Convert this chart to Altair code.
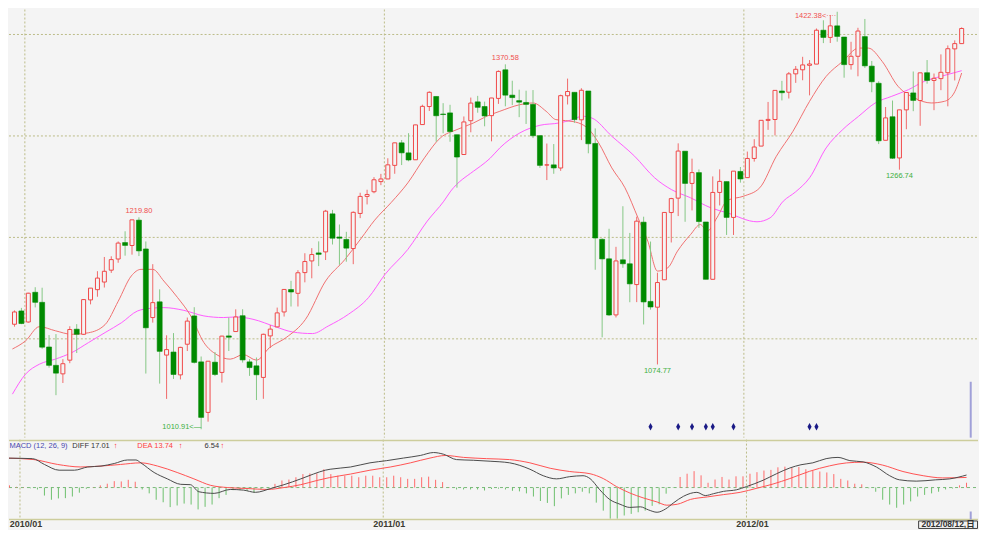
import altair as alt
import pandas as pd

# ---------------- values (weekly candles) ----------------
opens = [1114.4, 1127.5, 1116.6, 1145.9, 1136.0, 1092.0, 1073.9, 1065.5, 1079.0, 1109.5,
         1104.5, 1138.4, 1148.5, 1156.0, 1167.7, 1178.7, 1194.9, 1192.0, 1217.0, 1188.6,
         1121.0, 1136.5, 1084.0, 1087.0, 1064.5, 1094.7, 1122.6, 1077.3, 1027.5, 1077.0,
         1066.9, 1102.9, 1107.2, 1122.8, 1077.3, 1073.4, 1062.0, 1102.9, 1111.8, 1126.5,
         1148.6, 1144.9, 1165.3, 1176.8, 1184.7, 1185.7, 1223.2, 1200.4, 1198.0, 1189.0,
         1223.6, 1240.4, 1245.0, 1255.0, 1257.6, 1271.0, 1293.2, 1283.3, 1276.5, 1311.2,
         1329.0, 1338.9, 1321.6, 1322.7, 1301.2, 1281.7, 1315.0, 1333.6, 1329.0, 1320.0,
         1337.0, 1365.2, 1340.2, 1334.8, 1333.0, 1331.1, 1300.3, 1271.3, 1271.5, 1268.4,
         1339.6, 1343.0, 1315.9, 1344.3, 1292.6, 1198.1, 1178.9, 1123.6, 1177.9, 1174.0,
         1153.5, 1214.99, 1136.9, 1131.2, 1158.2, 1224.5, 1238.7, 1284.96, 1253.2, 1263.85,
         1215.2, 1158.7, 1244.3, 1255.0, 1219.7, 1265.0, 1258.9, 1277.8, 1290.0, 1315.3,
         1316.2, 1344.3, 1343.1, 1361.2, 1365.2, 1369.6, 1370.8, 1404.2, 1397.1, 1408.5,
         1397.5, 1370.3, 1378.5, 1397.9, 1368.8, 1351.9, 1295.7, 1318.9, 1278.3, 1325.7,
         1342.4, 1334.9, 1362.3, 1354.7, 1356.5, 1362.3, 1385.8, 1391.0]
highs = [1128.0, 1130.5, 1145.4, 1150.9, 1150.4, 1103.7, 1104.7, 1080.0, 1112.4, 1114.5,
         1139.0, 1150.0, 1166.7, 1180.7, 1181.4, 1196.0, 1206.0, 1217.3, 1219.8, 1196.0,
         1173.6, 1148.8, 1103.5, 1105.7, 1092.2, 1121.0, 1131.2, 1082.6, 1078.0, 1087.0,
         1103.0, 1120.95, 1129.1, 1129.2, 1080.0, 1081.6, 1105.1, 1113.7, 1130.8, 1148.9,
         1157.2, 1167.7, 1184.4, 1189.4, 1196.1, 1227.1, 1227.1, 1212.7, 1205.5, 1225.6,
         1244.0, 1247.0, 1259.4, 1262.6, 1278.0, 1293.2, 1296.0, 1302.7, 1311.0, 1330.8,
         1344.0, 1338.9, 1332.3, 1330.7, 1301.2, 1319.2, 1337.8, 1339.5, 1333.8, 1337.5,
         1364.6, 1370.58, 1354.4, 1345.6, 1344.6, 1345.2, 1300.3, 1292.5, 1292.0, 1340.7,
         1356.5, 1343.0, 1347.0, 1344.3, 1307.4, 1199.0, 1208.5, 1190.7, 1230.7, 1204.4,
         1220.4, 1220.4, 1195.9, 1165.2, 1224.6, 1239.0, 1292.7, 1284.96, 1277.6, 1266.98,
         1215.2, 1260.1, 1267.1, 1255.0, 1265.4, 1269.4, 1284.6, 1296.8, 1315.5, 1333.5,
         1345.0, 1354.3, 1363.0, 1368.9, 1378.0, 1374.8, 1405.9, 1414.0, 1419.2, 1422.38,
         1397.5, 1392.8, 1406.6, 1415.3, 1373.9, 1353.9, 1328.5, 1334.9, 1325.8, 1343.3,
         1363.5, 1362.2, 1374.8, 1361.5, 1380.4, 1389.2, 1394.2, 1407.0]
lows = [1112.0, 1114.5, 1116.0, 1131.0, 1090.2, 1071.6, 1044.5, 1056.5, 1076.0, 1086.0,
        1104.0, 1134.0, 1141.5, 1150.6, 1165.0, 1175.0, 1182.0, 1183.0, 1181.6, 1065.8,
        1116.0, 1055.9, 1040.8, 1060.5, 1060.0, 1088.0, 1075.7, 1010.91, 1018.4, 1063.3,
        1056.9, 1088.0, 1107.2, 1076.6, 1063.5, 1039.7, 1040.9, 1091.0, 1111.8, 1122.0,
        1131.9, 1131.9, 1155.7, 1159.7, 1171.7, 1177.7, 1193.0, 1173.0, 1176.0, 1173.6,
        1219.0, 1232.5, 1243.5, 1251.5, 1257.6, 1262.7, 1271.3, 1275.0, 1276.5, 1311.0,
        1324.6, 1294.3, 1302.6, 1294.3, 1249.0, 1281.7, 1303.6, 1322.9, 1309.5, 1294.7,
        1331.6, 1329.2, 1330.4, 1318.5, 1311.8, 1297.9, 1268.5, 1256.5, 1262.7, 1265.6,
        1331.0, 1313.0, 1295.9, 1282.9, 1168.1, 1101.5, 1122.6, 1121.1, 1170.0, 1136.1,
        1136.2, 1114.2, 1128.8, 1074.77, 1158.2, 1195.0, 1221.0, 1215.4, 1226.6, 1209.4,
        1158.7, 1158.7, 1231.5, 1202.4, 1202.4, 1254.0, 1258.9, 1274.7, 1290.0, 1306.0,
        1300.5, 1335.0, 1336.9, 1352.3, 1354.9, 1340.0, 1370.8, 1391.5, 1391.6, 1392.9,
        1357.4, 1365.4, 1358.8, 1367.0, 1343.1, 1291.98, 1295.7, 1277.3, 1266.74, 1306.6,
        1324.4, 1310.0, 1351.5, 1325.4, 1345.1, 1329.2, 1354.7, 1391.0]
closes = [1126.5, 1115.1, 1144.98, 1136.0, 1091.8, 1073.9, 1066.2, 1075.5, 1109.2, 1104.5,
          1138.7, 1150.0, 1159.9, 1166.6, 1178.1, 1194.4, 1192.1, 1217.3, 1186.7, 1110.9,
          1135.7, 1087.7, 1089.4, 1064.9, 1091.6, 1117.5, 1076.8, 1022.6, 1077.96, 1064.9,
          1102.7, 1101.6, 1121.6, 1079.25, 1071.7, 1064.6, 1104.5, 1109.6, 1125.6, 1148.7,
          1146.2, 1165.15, 1176.2, 1183.1, 1183.3, 1225.85, 1199.2, 1199.2, 1189.4, 1224.7,
          1240.4, 1242.3, 1256.8, 1257.6, 1271.5, 1293.2, 1283.35, 1276.3, 1310.9, 1329.15,
          1343.0, 1319.9, 1321.1, 1304.3, 1279.2, 1313.8, 1332.4, 1328.2, 1319.7, 1337.4,
          1363.6, 1340.2, 1337.8, 1333.3, 1331.1, 1300.2, 1270.98, 1271.5, 1268.45, 1339.7,
          1343.8, 1316.1, 1345.0, 1292.3, 1199.4, 1178.8, 1123.5, 1176.8, 1174.0, 1154.2,
          1216.0, 1136.4, 1131.4, 1155.5, 1224.6, 1238.25, 1285.1, 1253.2, 1263.85, 1215.65,
          1158.7, 1244.3, 1255.2, 1219.7, 1265.3, 1257.6, 1277.8, 1289.1, 1315.4, 1316.3,
          1344.9, 1342.6, 1361.2, 1365.7, 1370.0, 1370.9, 1404.2, 1397.1, 1408.5, 1398.1,
          1370.3, 1378.5, 1403.4, 1369.1, 1353.4, 1295.2, 1317.8, 1278.04, 1325.7, 1342.8,
          1335.02, 1362.2, 1354.7, 1356.8, 1362.7, 1385.97, 1390.99, 1405.9]

# moving-average lines (week position, price)
ma10_pos = [-0.3, 1.6, 3.6, 5.9, 8.3, 10.7, 13.1, 15.0, 16.9, 18.3, 20.0, 21.6, 23.6, 25.5, 27.4,
            29.3, 31.2, 33.1, 35.0, 36.9, 39.3, 42.1, 45.0, 47.8, 50.2, 52.1, 54.5, 56.9, 59.3,
            61.6, 64.0, 66.4, 68.3, 70.2, 73.1, 75.0, 76.9, 78.3, 79.7, 81.6, 83.1, 84.5, 86.4,
            88.3, 90.2, 91.6, 93.0, 94.5, 95.9, 97.8, 99.2, 100.2, 101.6, 103.1, 105.5, 107.8,
            110.2, 112.6, 115.0, 117.4, 119.8, 122.1, 123.5, 125.5, 127.8, 130.2, 132.6, 134.5,
            135.9, 137.0]
ma10_val = [1090, 1098, 1112, 1108, 1104.5, 1106, 1114, 1137, 1162, 1168.5, 1168.5, 1157, 1140.6,
            1122.6, 1096.3, 1084.2, 1080, 1084.5, 1079, 1091.4, 1101.3, 1119.3, 1157, 1178.3,
            1199.6, 1217, 1234.5, 1253.8, 1278.4, 1298.1, 1306.3, 1312.8, 1319.4, 1324.3, 1330.8,
            1332.5, 1324.3, 1316.1, 1315.1, 1312.8, 1306.3, 1293.1, 1268.5, 1248.9, 1219,
            1196.4, 1166.8, 1170.1, 1186.5, 1202.9, 1212.7, 1206.2, 1219.3, 1236.4, 1240.7,
            1248.9, 1280, 1304.6, 1334.1, 1358.7, 1373.5, 1386.6, 1386.6, 1373.5, 1348.9,
            1337.4, 1332.5, 1334.1, 1342.3, 1362]
ma26_pos = [-0.3, 1.6, 3.6, 5.9, 8.3, 10.7, 13.1, 15.5, 17.8, 19.7, 21.6, 24.5, 27.4, 30.2, 32.1,
            34.5, 37.8, 40.2, 43.1, 45.4, 48.3, 51.2, 53.6, 56.9, 59.7, 62.1, 63.1, 66.4, 67.4,
            68.8, 70.2, 73.1, 76.0, 78.8, 80.7, 82.1, 83.5, 86.4, 89.7, 92.6, 95.0, 97.8, 100.7,
            103.1, 107.4, 109.3, 111.2, 113.0, 115.0, 117.4, 119.8, 122.1, 124.5, 126.9, 129.3,
            131.6, 134.0, 137.0]
ma26_val = [1045.5, 1065.2, 1075, 1080, 1086.5, 1096.3, 1106.2, 1116, 1127.5, 1130.1, 1130.8,
            1128.1, 1122.6, 1121, 1121.6, 1119.3, 1111.8, 1106.8, 1105.2, 1112.7, 1124.2, 1140.6,
            1163.6, 1188.2, 1216, 1235.7, 1245.6, 1265.3, 1270.2, 1278, 1288.2, 1303, 1310.5,
            1312.8, 1316.1, 1319.4, 1317.7, 1299.7, 1280, 1258.7, 1247.2, 1239, 1229.2, 1224.2,
            1215.4, 1219.3, 1235.7, 1245, 1258.7, 1288.2, 1306.3, 1319.4, 1332.5, 1339.1,
            1345.6, 1353.8, 1358.7, 1364.3]

# MACD (12, 26, 9)
macd_hist = [3, 1, 0.5, -1, -2.6, -10.9, -16.6, -14.8, -14.4, -12.2,
             -7, -1.7, 0.5, 3, 5.2, 8.7, 8.3, 10.5, 7.9, -2.6,
             -7.9, -16.6, -20, -26.6, -24.4, -21.8, -23.1, -29.7, -26.2, -23.1,
             -14.4, -10, -3.5, -3.5, -4.8, -7, -2.6, -1, 5, 9.6,
             10.9, 14, 18.3, 19.2, 19.2, 24.9, 18.3, 16.1, 16.1, 16.1,
             14, 16.1, 16.1, 14, 14, 16.1, 14, 11.8, 11.8, 14,
             14.8, 10.5, 7.4, 0.5, -2.6, -2.6, -2.6, -2.6, -4, -2,
             -1.5, -2.6, -4.4, -5.2, -7.9, -12.2, -18.3, -20.9, -25.3, -14.8,
             -10, -7.9, -5.7, -7.9, -20.5, -31.4, -42.3, -42.3, -38, -35.8,
             -33.6, -31.4, -24.9, -22.7, -8.3, -0.5, 14.4, 18.8, 22.3, 16.6,
             6.5, 10.9, 14.4, 10.9, 15.3, 15.3, 18.8, 20.9, 23.1, 24,
             27.5, 28.4, 27, 27.9, 24.9, 22.7, 21.8, 20.5, 18.3, 11.8,
             9.6, 5.2, 4.4, -1, -5.7, -16.6, -23.1, -27.5, -23.1, -18.8,
             -12.2, -10, -7.9, -5.7, -2.6, -1.3, 3, 6.54]
diff_pos = [-0.3, 3.3, 5.0, 7.1, 9.3, 11.2, 13.1, 15.0, 16.9, 18.1, 18.8, 20.7, 22.6, 24.5, 25.9,
            27.1, 29.3, 31.6, 33.5, 35.2, 37.4, 39.3, 41.7, 43.5, 45.2, 45.9, 48.8, 51.6, 54.0,
            56.4, 58.8, 60.7, 62.1, 64.0, 66.4, 68.8, 71.6, 74.5, 76.4, 78.3, 80.2, 82.1, 83.1,
            84.5, 85.9, 87.4, 88.8, 90.3, 91.5, 92.7, 93.9, 95.1, 96.5, 98.4, 99.6, 100.8,
            102.2, 104.1, 105.5, 107.9, 109.8, 111.7, 113.3, 115.0, 116.9, 118.6, 120.3, 122.2,
            124.1, 126.0, 127.4, 129.8, 132.6, 134.6, 137.0]
diff_val = [40, 39.3, 31.4, 23.6, 23.6, 28, 29.2, 32.7, 37.5, 37.5, 33.6, 20.5, 11.8, 4.4, 3.9,
            -5.7, -7.9, -2.6, -3.5, -6.5, -1.3, 3.9, 11.8, 18.3, 23.6, 24.9, 27.9, 33.6, 36.6,
            40.1, 43.6, 47.6, 45.4, 38, 37.1, 35.8, 33.6, 24.9, 16.1, 11.8, 14.8, 16.1, 12.2,
            -3, -16.1, -22.7, -27, -26.2, -30.5, -33.6, -29.2, -20.5, -11.8, -6.5, -10.9, -8.3,
            -5.2, -3, 1.3, 10, 18.8, 26.6, 31, 33.6, 39.3, 41, 36.6, 34.9,
            27.9, 16.1, 10.5, 8.7, 10.5, 11.8, 17.01]
dea_pos = [-0.3, 3.5, 6.9, 10.2, 13.1, 15.9, 18.8, 21.2, 24.0, 26.4, 28.8, 31.2, 34.0, 36.9, 39.3,
           41.7, 44.0, 45.8, 48.8, 51.6, 54.5, 57.4, 60.2, 62.4, 65.0, 68.3, 71.6, 74.5, 77.4,
           80.2, 83.1, 85.0, 86.9, 88.8, 90.7, 92.7, 94.1, 95.6, 97.5, 99.9, 102.2, 104.6,
           107.0, 109.3, 111.7, 114.5, 117.4, 119.8, 122.2, 125.0, 127.9, 130.8, 133.6, 137.0]
dea_val = [40, 38, 31.4, 28, 29.2, 31.4, 33.6, 29.2, 20.5, 11.8, 3, 0, -1.3, -2.6, 0,
           3.9, 9.6, 13.5, 18.3, 23.6, 27.9, 33.6, 40.1, 43.6, 41, 39.3, 38, 33.6, 26.2,
           21.8, 18.8, 12.2, 1.3, -7.4, -14, -19.6, -24, -22.7, -16.1, -12.7, -9.6, -6.5,
           -0.9, 4.8, 12.2, 22, 29.5, 33.5, 34.5, 30.5, 21.8, 16.1, 13.1, 13.74]
diff_last, dea_last, macd_last = 17.01, 13.74, 6.54

signal_weeks = [92, 96, 98, 100, 101, 104, 115, 116]
grid_prices = [1100, 1200, 1300, 1400]
month_ticks = [1.5, 53.5, 105.5]
month_labels = ["2010/01", "2011/01", "2012/01"]
peak_idx = [18, 71, 119]
peak_val = [1219.80, 1370.58, 1422.38]
trough_idx = [27, 93, 128]
trough_val = [1010.91, 1074.77, 1266.74]
last_date_label = "2012/08/12,日"

# ---------------- styling ----------------
W = 971
H_MAIN = 429
H_MACD = 89
MACD_BOTTOM = 80
BG = "#f4f4f4"
RED = "#f04848"
RED_WICK = "#f06a6a"
GREEN = "#008a00"
GREEN_WICK = "#86c886"
GRID = "#bcbc88"
BORDER = "#cdcd9c"
MA10C = "#f07070"
MA26C = "#ff5cff"
FONT = "Liberation Sans, Arial, Noto Sans CJK SC, sans-serif"

x_scale = alt.Scale(domain=[-0.5 / 7, (W - 0.5) / 7], nice=False, zero=False)
y_main = alt.Scale(domain=[1002.62, 1424.59], nice=False, zero=False)
y_macd = alt.Scale(domain=[-55.63, 65.13], nice=False, zero=False)

n = len(closes)
candles = pd.DataFrame({"i": list(range(n)), "o": opens, "h": highs, "l": lows, "c": closes})
up = candles[candles["c"] >= candles["o"]]
down = candles[candles["c"] < candles["o"]]

X = alt.X("i:Q", scale=x_scale, axis=None)


def YM(f):
    return alt.Y(f, scale=y_main, axis=None)


def YD(f):
    return alt.Y(f, scale=y_macd, axis=None)


one = alt.Data(values=[{"k": 1}])

# ---------------- main (price) panel ----------------
hgrid = alt.Chart(pd.DataFrame({"p": grid_prices})).mark_rule(
    color=GRID, strokeDash=[2, 2], strokeWidth=1
).encode(y=YM("p:Q"), x=alt.value(0), x2=alt.value(W))
vgrid = alt.Chart(pd.DataFrame({"t": month_ticks})).mark_rule(
    color=GRID, strokeDash=[2, 2], strokeWidth=1
).encode(x=alt.X("t:Q", scale=x_scale, axis=None), y=alt.value(0), y2=alt.value(H_MAIN))

wick_up = alt.Chart(up).mark_rule(color=RED_WICK, strokeWidth=1).encode(x=X, y=YM("l:Q"), y2="h:Q")
wick_dn = alt.Chart(down).mark_rule(color=GREEN_WICK, strokeWidth=1).encode(x=X, y=YM("l:Q"), y2="h:Q")
body_up = alt.Chart(up).mark_bar(size=4, fill=BG, stroke=RED, strokeWidth=1).encode(
    x=X, y=YM("o:Q"), y2="c:Q")
body_dn = alt.Chart(down).mark_bar(size=5, fill=GREEN, stroke=GREEN, strokeWidth=0.6).encode(
    x=X, y=YM("o:Q"), y2="c:Q")

ma10 = alt.Chart(pd.DataFrame({"x": ma10_pos, "v": ma10_val})).mark_line(
    color=MA10C, strokeWidth=1, interpolate="monotone", clip=True
).encode(x=alt.X("x:Q", scale=x_scale, axis=None), y=YM("v:Q"))
ma26 = alt.Chart(pd.DataFrame({"x": ma26_pos, "v": ma26_val})).mark_line(
    color=MA26C, strokeWidth=1, interpolate="monotone", clip=True
).encode(x=alt.X("x:Q", scale=x_scale, axis=None), y=YM("v:Q"))

signals = alt.Chart(pd.DataFrame({"i": signal_weeks})).mark_point(
    shape="M0,-1L0.55,0L0,1L-0.55,0Z", filled=True, size=56, color="#1a1a86", opacity=1
).encode(x=X, y=alt.value(418))

cursor_main = alt.Chart(one).mark_rule(color="#a0a0d8", strokeWidth=2).encode(
    x=alt.value(963.7), y=alt.value(373), y2=alt.value(H_MAIN))


def note(idx, val, text, color, **kw):
    return alt.Chart(pd.DataFrame({"i": [idx], "p": [val], "t": [text]})).mark_text(
        color=color, font=FONT, fontSize=7.5, **kw
    ).encode(x=X, y=YM("p:Q"), text="t:N")


NOTE_RED = "#f05050"
NOTE_GREEN = "#40b040"
notes = [
    note(peak_idx[0], peak_val[0], f"{peak_val[0]:.2f}", NOTE_RED, baseline="bottom", dy=-2),
    note(peak_idx[1], peak_val[1], f"{peak_val[1]:.2f}", NOTE_RED, baseline="bottom", dy=-2),
    note(peak_idx[2], peak_val[2], f"{peak_val[2]:.2f}<····", NOTE_RED, align="right",
         baseline="middle", dx=-1, dy=4),
    note(trough_idx[0], trough_val[0], f"{trough_val[0]:.2f}<—", NOTE_GREEN, align="right",
         baseline="middle", dx=0, dy=-2),
    note(trough_idx[1], trough_val[1], f"{trough_val[1]:.2f}", NOTE_GREEN, baseline="top", dy=3),
    note(trough_idx[2], trough_val[2], f"{trough_val[2]:.2f}", NOTE_GREEN, baseline="top", dy=2),
]

main = alt.layer(
    hgrid, vgrid, ma26, ma10, wick_up, wick_dn, body_up, body_dn, signals, cursor_main, *notes
).properties(width=W, height=H_MAIN)

# ---------------- MACD panel ----------------
hist_df = pd.DataFrame({"i": list(range(n)), "v": macd_hist, "z": [0.0] * n})
hist_up = alt.Chart(hist_df[hist_df["v"] >= 0]).mark_rule(color="#ff6a6a", strokeWidth=1).encode(
    x=X, y=YD("v:Q"), y2="z:Q")
hist_dn = alt.Chart(hist_df[hist_df["v"] < 0]).mark_rule(color="#6cc06c", strokeWidth=1).encode(
    x=X, y=YD("v:Q"), y2="z:Q")

zero_line = alt.Chart(pd.DataFrame({"z": [0.0]})).mark_rule(
    color="#78b878", strokeDash=[3, 3], strokeWidth=1
).encode(y=YD("z:Q"), x=alt.value(0), x2=alt.value(W))
vgrid2 = alt.Chart(pd.DataFrame({"t": month_ticks})).mark_rule(
    color=GRID, strokeDash=[2, 2], strokeWidth=1
).encode(x=alt.X("t:Q", scale=x_scale, axis=None), y=alt.value(0), y2=alt.value(MACD_BOTTOM))
border_top = alt.Chart(one).mark_rule(color=BORDER, strokeWidth=1.5).encode(
    y=alt.value(0.75), x=alt.value(0), x2=alt.value(W))
border_bot = alt.Chart(one).mark_rule(color=BORDER, strokeWidth=1.5).encode(
    y=alt.value(MACD_BOTTOM), x=alt.value(0), x2=alt.value(W))

diff_line = alt.Chart(pd.DataFrame({"x": diff_pos, "v": diff_val})).mark_line(
    color="#4a4a4a", strokeWidth=1, interpolate="monotone", clip=True
).encode(x=alt.X("x:Q", scale=x_scale, axis=None), y=YD("v:Q"))
dea_line = alt.Chart(pd.DataFrame({"x": dea_pos, "v": dea_val})).mark_line(
    color="#ff5252", strokeWidth=1, interpolate="monotone", clip=True
).encode(x=alt.X("x:Q", scale=x_scale, axis=None), y=YD("v:Q"))

cursor_macd = alt.Chart(one).mark_rule(color="#a0a0d8", strokeWidth=2).encode(
    x=alt.value(963.7), y=alt.value(MACD_BOTTOM - 8), y2=alt.value(MACD_BOTTOM))


def label(x, text, color, size=7.5, weight="normal"):
    return alt.Chart(alt.Data(values=[{"t": text}])).mark_text(
        color=color, font=FONT, fontSize=size, fontWeight=weight, align="left", baseline="middle"
    ).encode(x=alt.value(x), y=alt.value(6.5), text="t:N")


header = [
    label(0.5, "MACD (12, 26, 9)", "#4848b0"),
    label(63.5, f"DIFF  {diff_last:.2f}", "#333333"),
    label(105, "↑", "#ff3030"),
    label(128.5, f"DEA  {dea_last:.2f}", "#ff4040"),
    label(170, "↑", "#ff3030"),
    label(196, f"{macd_last:.2f}", "#333333"),
    label(212, "↑", "#ff3030"),
]

month_text = alt.Chart(pd.DataFrame({"t": month_ticks, "s": month_labels})).mark_text(
    color="#3a3a30", font=FONT, fontSize=9, fontWeight="bold", align="center",
    baseline="alphabetic", dx=6
).encode(x=alt.X("t:Q", scale=x_scale, axis=None), y=alt.value(H_MACD - 1), text="s:N")

date_box = alt.Chart(one).mark_rect(fill="#f0f0f0", stroke="#404040", strokeWidth=1).encode(
    x=alt.value(911.5), x2=alt.value(970.5), y=alt.value(MACD_BOTTOM + 1.5), y2=alt.value(H_MACD))
date_text = alt.Chart(alt.Data(values=[{"t": last_date_label}])).mark_text(
    color="#303030", font=FONT, fontSize=8.5, fontWeight="bold", align="center",
    baseline="alphabetic"
).encode(x=alt.value(941), y=alt.value(H_MACD - 1.5), text="t:N")

macd = alt.layer(
    vgrid2, zero_line, hist_up, hist_dn, dea_line, diff_line, border_top, border_bot,
    cursor_macd, *header, month_text, date_box, date_text
).properties(width=W, height=H_MACD)

chart = alt.vconcat(main, macd, spacing=0).resolve_scale(
    x="independent", y="independent"
).properties(padding=0, background=BG).configure_view(strokeWidth=0, fill=BG)

chart.save("out.html", embed_options={"renderer": "svg", "actions": False})
